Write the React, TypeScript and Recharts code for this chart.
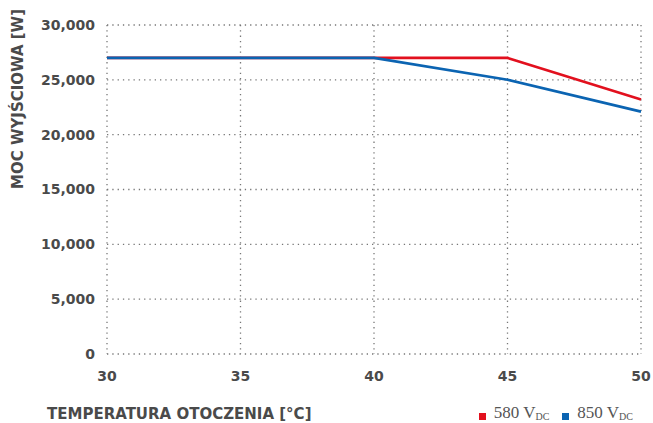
import React from 'react';
import { LineChart, Line, XAxis, YAxis, CartesianGrid, Legend } from 'recharts';

const temperatures = [30, 35, 40, 45, 50];
const power580 = [27000, 27000, 27000, 27000, 23200];
const power850 = [27000, 27000, 27000, 25000, 22100];
const xTicks = [30, 35, 40, 45, 50];
const yTicks = [0, 5000, 10000, 15000, 20000, 25000, 30000];
const seriesNames = ['580', '850'];
const seriesColors = ['#e2101e', '#0b64b2'];

const data = temperatures.map((t, i) => ({ t, a: power580[i], b: power850[i] }));

const FONT = '"DejaVu Sans", sans-serif';
const TXT = '#4a4a4a';

const LegendContent = () => (
  <div style={{ display: 'flex', justifyContent: 'flex-end', fontFamily: '"Liberation Serif", serif', fontSize: 17, color: '#555', lineHeight: '17px', whiteSpace: 'nowrap' }}>
    {seriesNames.map((n, i) => (
      <span key={n} style={{ display: 'flex', alignItems: 'center', marginLeft: i ? 13 : 0 }}>
        <span style={{ width: 7, height: 7, background: seriesColors[i], marginRight: 8, display: 'inline-block', marginTop: 6 }} />
        <span>{n} V<span style={{ fontSize: 10, position: 'relative', top: 2 }}>DC</span></span>
      </span>
    ))}
  </div>
);

export default function App() {
  return (
    <div style={{ position: 'absolute', left: 0, top: 0, width: 653, height: 423, background: '#fff', overflow: 'hidden' }}>
      <LineChart width={653} height={423} data={data} margin={{ top: 25, right: 12, bottom: 0, left: 0 }}>
        <CartesianGrid stroke="#777" strokeWidth={1.3} strokeDasharray="1.3 4" horizontal vertical />
        <XAxis
          dataKey="t"
          type="number"
          domain={[30, 50]}
          ticks={xTicks}
          axisLine={false}
          tickLine={false}
          tickSize={0}
          tickMargin={17}
          height={69}
          tick={{ fill: TXT, fontFamily: FONT, fontWeight: 'bold', fontSize: 14 }}
          label={{
            content: (p: any) => {
              const vb = p.viewBox;
              return (
                <text x={47} y={vb.y + 65} fill={TXT} fontFamily={FONT} fontWeight="bold" fontSize={15} textAnchor="start">
                  TEMPERATURA OTOCZENIA [°C]
                </text>
              );
            },
          }}
        />
        <YAxis
          type="number"
          domain={[0, 30000]}
          ticks={yTicks}
          width={107}
          axisLine={false}
          tickLine={false}
          tickSize={0}
          tickMargin={12}
          tickFormatter={(v: number) => v.toLocaleString('en-US')}
          tick={{ fill: TXT, fontFamily: FONT, fontWeight: 'bold', fontSize: 14 }}
          label={{
            content: (p: any) => {
              const vb = p.viewBox;
              const cx = 18;
              const cy = vb.y + 74;
              return (
                <text x={cx} y={cy} transform={`rotate(-90 ${cx} ${cy})`} fill={TXT} fontFamily={FONT} fontWeight="bold" fontSize={15} textAnchor="middle" dominantBaseline="central">
                  MOC WYJŚCIOWA [W]
                </text>
              );
            },
          }}
        />
        <Legend
          verticalAlign="top"
          align="right"
          content={LegendContent}
          wrapperStyle={{ top: 404, right: 20, left: 'auto', width: 'auto', height: 0, overflow: 'visible' }}
        />
        <Line dataKey="a" stroke={seriesColors[0]} strokeWidth={2.6} dot={false} isAnimationActive={false} />
        <Line dataKey="b" stroke={seriesColors[1]} strokeWidth={2.6} dot={false} isAnimationActive={false} />
      </LineChart>
    </div>
  );
}
